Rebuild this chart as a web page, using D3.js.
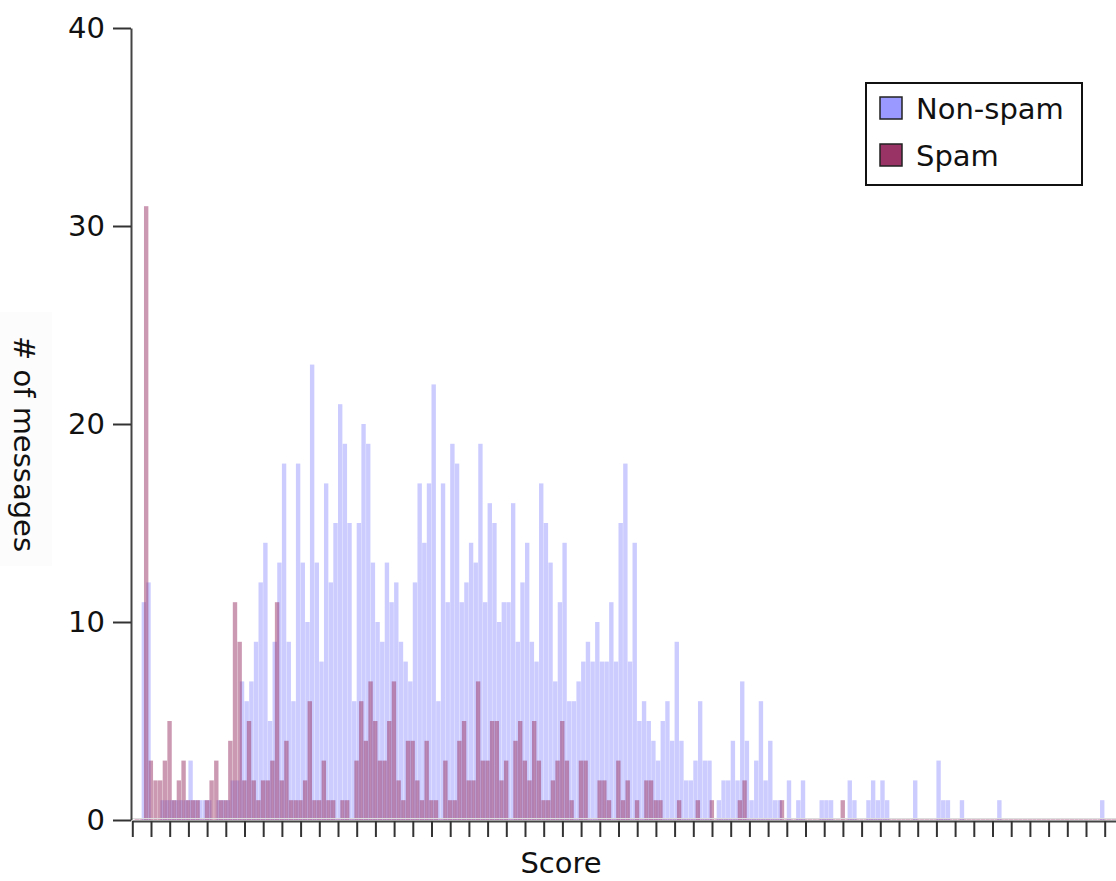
<!DOCTYPE html>
<meta charset="utf-8" />
<script src="https://d3js.org/d3.v7.min.js"></script>
<style>
  body { margin: 0; background: #fff; }
  text { font-family: "DejaVu Sans", sans-serif; fill: #111; }
</style>
<body>
<div id="chart"></div>
<script>
// histogram counts per score bin (bin index 0..211)
var nonSpam = [
  0, 0, 11, 12, 0, 0, 1, 1, 1, 1, 1, 1, 3, 1, 1, 1, 1, 0, 1, 1,
  1, 2, 2, 7, 6, 7, 9, 12, 14, 5, 9, 13, 18, 9, 6, 18, 13, 10, 23, 13,
  8, 17, 12, 15, 21, 19, 15, 6, 15, 20, 19, 13, 10, 9, 13, 11, 12, 9, 8, 7,
  12, 17, 14, 17, 22, 6, 17, 11, 19, 18, 11, 12, 14, 13, 19, 11, 16, 15, 10, 11,
  11, 16, 9, 12, 14, 9, 8, 17, 15, 13, 7, 11, 14, 6, 6, 7, 8, 9, 8, 10,
  8, 8, 11, 8, 15, 18, 8, 14, 5, 6, 5, 4, 3, 5, 6, 4, 9, 4, 2, 2,
  3, 6, 3, 3, 0, 1, 2, 2, 4, 2, 7, 4, 1, 3, 6, 2, 4, 1, 1, 0,
  2, 0, 1, 2, 0, 0, 0, 1, 1, 1, 0, 0, 0, 2, 1, 0, 0, 1, 2, 1,
  2, 1, 0, 0, 0, 0, 0, 2, 0, 0, 0, 0, 3, 1, 1, 0, 0, 1, 0, 0,
  0, 0, 0, 0, 0, 1, 0, 0, 0, 0, 0, 0, 0, 0, 0, 0, 0, 0, 0, 0,
  0, 0, 0, 0, 0, 0, 0, 1, 0, 0, 0, 0
];
var spam = [
  0, 0, 31, 3, 2, 2, 3, 5, 1, 2, 3, 1, 1, 1, 0, 1, 2, 3, 1, 1,
  4, 11, 9, 2, 5, 2, 1, 2, 2, 3, 11, 2, 4, 1, 1, 1, 2, 6, 1, 1,
  3, 1, 1, 0, 1, 1, 0, 3, 6, 4, 7, 5, 3, 3, 5, 7, 2, 1, 4, 4,
  2, 1, 4, 1, 1, 0, 3, 1, 1, 4, 5, 2, 2, 7, 3, 3, 5, 5, 2, 3,
  0, 4, 5, 3, 2, 5, 3, 1, 1, 2, 3, 5, 3, 1, 0, 3, 3, 0, 0, 2,
  2, 1, 0, 3, 1, 2, 0, 1, 0, 2, 2, 1, 1, 0, 0, 0, 1, 0, 0, 0,
  1, 0, 0, 1, 0, 0, 0, 0, 0, 1, 2, 0, 0, 0, 0, 0, 0, 0, 1, 0,
  0, 0, 0, 0, 0, 0, 0, 0, 0, 0, 0, 1, 0, 0, 0, 0, 0, 0, 0, 0,
  0, 0, 0, 0, 0, 0, 0, 0, 0, 0, 0, 0, 0, 0, 0, 0, 0, 0, 0, 0,
  0, 0, 0, 0, 0, 0, 0, 0, 0, 0, 0, 0, 0, 0, 0, 0, 0, 0, 0, 0,
  0, 0, 0, 0, 0, 0, 0, 0, 0, 0, 0, 0
];
var yTicks = [0, 10, 20, 30, 40];
var seriesNames = ["Non-spam", "Spam"];
var seriesColors = ["#9999ff", "#993366"];

var width = 1116, height = 881;
var nBins = 212;

var svg = d3.select("#chart").append("svg")
  .attr("width", width)
  .attr("height", height);

svg.append("rect").attr("width", width).attr("height", height).attr("fill", "#fff");

var x = d3.scaleLinear().domain([0, nBins]).range([132.3, 132.3 + nBins * 4.675]);
var y = d3.scaleLinear().domain([0, 40]).range([820, 28]);
var bw = x(1) - x(0);

// faint box behind y label
svg.append("rect").attr("x", 0).attr("y", 312).attr("width", 52).attr("height", 254)
  .attr("fill", "#fcfcfc");

var plot = svg.append("g");

// non-spam bars
plot.selectAll("rect.ns")
  .data(nonSpam)
  .join("rect")
  .attr("class", "ns")
  .attr("x", function (d, i) { return x(i); })
  .attr("width", bw - 0.3)
  .attr("y", function (d) { return y(d); })
  .attr("height", function (d) { return y(0) - y(d); })
  .attr("fill", seriesColors[0])
  .attr("fill-opacity", 0.5);

// spam bars (shifted half a bin)
plot.selectAll("rect.sp")
  .data(spam)
  .join("rect")
  .attr("class", "sp")
  .attr("x", function (d, i) { return x(i + 0.5); })
  .attr("width", bw - 0.3)
  .attr("y", function (d) { return d > 0 ? y(d) : y(0) - 1.5; })
  .attr("height", function (d) { return d > 0 ? y(0) - y(d) : 1.5; })
  .attr("fill", seriesColors[1])
  .attr("fill-opacity", function (d) { return d > 0 ? 0.5 : 0.35; });

// x axis
svg.append("line").attr("x1", 132).attr("x2", width).attr("y1", 818.5).attr("y2", 818.5)
  .attr("stroke", "#ddd").attr("stroke-width", 1);

var xAxis = svg.append("g")
  .attr("transform", "translate(0,821)")
  .call(d3.axisBottom(x).tickValues(d3.range(0, nBins + 1, 4)).tickFormat("").tickSize(16).tickSizeOuter(0));
xAxis.select(".domain").attr("stroke", "#444").attr("stroke-width", 2);
xAxis.selectAll(".tick line").attr("stroke", "#333").attr("stroke-width", 2);

// y axis
var yAxis = svg.append("g")
  .attr("transform", "translate(131,0)")
  .call(d3.axisLeft(y).tickValues(yTicks).tickSize(18).tickPadding(8).tickSizeOuter(0));
yAxis.select(".domain").attr("stroke", "#444").attr("stroke-width", 2);
yAxis.selectAll(".tick line").attr("stroke", "#333").attr("stroke-width", 2);
yAxis.selectAll(".tick text")
  .style("font-family", "DejaVu Sans, sans-serif")
  .style("font-size", "29px")
  .attr("fill", "#111");

// axis titles
svg.append("text")
  .attr("transform", "translate(14,444) rotate(90)")
  .attr("text-anchor", "middle")
  .style("font-size", "29px")
  .text("# of messages");

svg.append("text")
  .attr("x", 561)
  .attr("y", 873)
  .attr("text-anchor", "middle")
  .style("font-size", "29px")
  .text("Score");

// legend
var legend = svg.append("g").attr("transform", "translate(866,83)");
legend.append("rect")
  .attr("width", 216).attr("height", 102)
  .attr("fill", "#fff").attr("stroke", "#111").attr("stroke-width", 2);
var items = legend.selectAll("g.item")
  .data(seriesNames)
  .join("g")
  .attr("class", "item")
  .attr("transform", function (d, i) { return "translate(14," + (14 + i * 47) + ")"; });
items.append("rect")
  .attr("width", 22).attr("height", 22)
  .attr("fill", function (d, i) { return seriesColors[i]; })
  .attr("stroke", "#222").attr("stroke-width", 1.5);
items.append("text")
  .attr("x", 36).attr("y", 22)
  .style("font-size", "29px")
  .text(function (d) { return d; });
</script>
</body>
